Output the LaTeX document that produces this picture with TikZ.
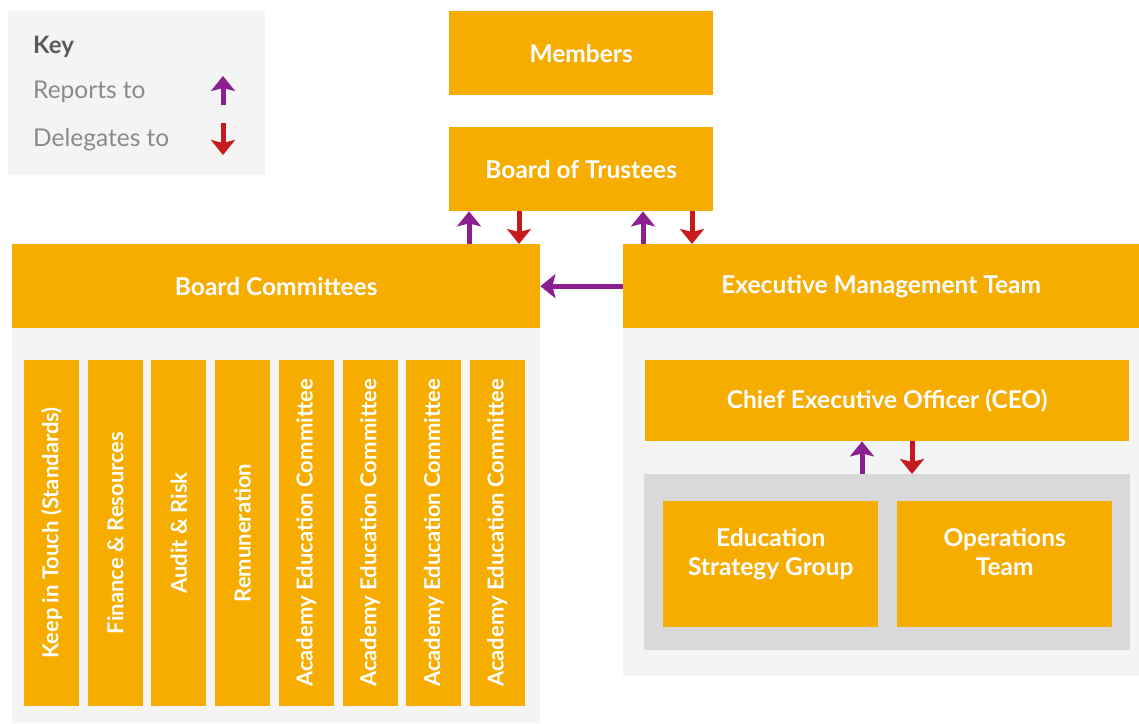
\documentclass[tikz,border=0pt]{standalone}
\usepackage{fontspec}
\setmainfont{Lato}
\usetikzlibrary{arrows.meta}
\definecolor{amber}{HTML}{F6AD00}
\definecolor{panel}{HTML}{F4F4F4}
\definecolor{inner}{HTML}{D9D9D9}
\definecolor{rptc}{HTML}{8B1F8F}
\definecolor{dlgc}{HTML}{C8191C}
\definecolor{keyhead}{HTML}{5A5A5A}
\definecolor{keytext}{HTML}{8A8A8A}
\begin{document}
\begin{tikzpicture}[x=1pt,y=-1pt,
  box/.style={fill=amber, draw=none, text=white, inner sep=0pt, align=center,
    anchor=north west, font=\bfseries\fontsize{24.5}{29}\selectfont},
  colbox/.style={fill=amber, draw=none, text=white, inner sep=0pt, rotate=90,
    minimum width=346pt, minimum height=55pt, font=\bfseries\fontsize{22}{24}\selectfont},
  area/.style={fill=panel, draw=none, inner sep=0pt, anchor=north west},
  group/.style={fill=inner, draw=none, inner sep=0pt, anchor=north west},
  tip/.style={-{Stealth[width=24pt,length=15pt,inset=3pt]}},
  rep/.style={draw=rptc, line width=5pt, tip},
  dlg/.style={draw=dlgc, line width=5pt, tip},
  keyhead/.style={anchor=base west, inner sep=0pt, text=keyhead, font=\bfseries\fontsize{24}{26}\selectfont},
  keyitem/.style={anchor=base west, inner sep=0pt, text=keytext, font=\fontsize{24.5}{26}\selectfont}
]
\useasboundingbox (0,0) rectangle (1139,723);

% key
\node[area, minimum width=257pt, minimum height=164pt] (key) at (8,11) {};
\node[keyhead] (keyt) at (33,53) {Key};
\node[keyitem] (krep) at (33,98) {Reports to};
\node[keyitem] (kdlg) at (33,146) {Delegates to};
\coordinate (kr1) at (223,105);
\coordinate (kr2) at (223,76);
\coordinate (kd1) at (223,123);
\coordinate (kd2) at (223,155);
\draw[rep] (kr1) -- (kr2);
\draw[dlg] (kd1) -- (kd2);

% top of the structure
\node[box, minimum width=264pt, minimum height=84pt] (members) at (449,11) {Members};
\node[box, minimum width=264pt, minimum height=84pt] (trustees) at (449,127) {Board of Trustees};

% board committees side
\node[area, minimum width=528pt, minimum height=396pt] (bcpanel) at (12,327) {};
\node[box, minimum width=528pt, minimum height=84pt] (committees) at (12,244) {Board Committees};
\foreach \i/\t in {0/Keep in Touch (Standards), 1/Finance \& Resources, 2/Audit \& Risk,
                   3/Remuneration, 4/Academy Education Committee, 5/Academy Education Committee,
                   6/Academy Education Committee, 7/Academy Education Committee}
  \node[colbox] (col\i) at (51.5+63.7*\i,533) {\t};

% executive side
\node[area, minimum width=516pt, minimum height=349pt] (empanel) at (623,327) {};
\node[box, minimum width=516pt, minimum height=84pt] (emt) at (623,244) {Executive Management Team};
\node[box, minimum width=484pt, minimum height=81pt] (ceo) at (645,360) {Chief Executive Officer (CEO)};
\node[group, minimum width=486pt, minimum height=176pt] (teams) at (644,474) {};
\node[box, minimum width=215pt, minimum height=126pt, text depth=24pt] (esg) at (663,501) {Education\\Strategy Group};
\node[box, minimum width=215pt, minimum height=126pt, text depth=24pt] (ops) at (897,501) {Operations\\Team};

% reporting and delegation lines
\coordinate (x1) at (469,0);
\coordinate (x2) at (519,0);
\coordinate (x3) at (643,0);
\coordinate (x4) at (692,0);
\draw[rep] (x1 |- committees.north) -- (x1 |- trustees.south);
\draw[dlg] (x2 |- trustees.south) -- (x2 |- committees.north);
\draw[rep] (x3 |- emt.north) -- (x3 |- trustees.south);
\draw[dlg] (x4 |- trustees.south) -- (x4 |- emt.north);
\draw[rep] (emt.west) -- (committees.east);

\coordinate (x5) at (862,0);
\coordinate (x6) at (912,0);
\draw[rep] (x5 |- teams.north) -- (x5 |- ceo.south);
\draw[dlg] (x6 |- ceo.south) -- (x6 |- teams.north);
\end{tikzpicture}
\end{document}
